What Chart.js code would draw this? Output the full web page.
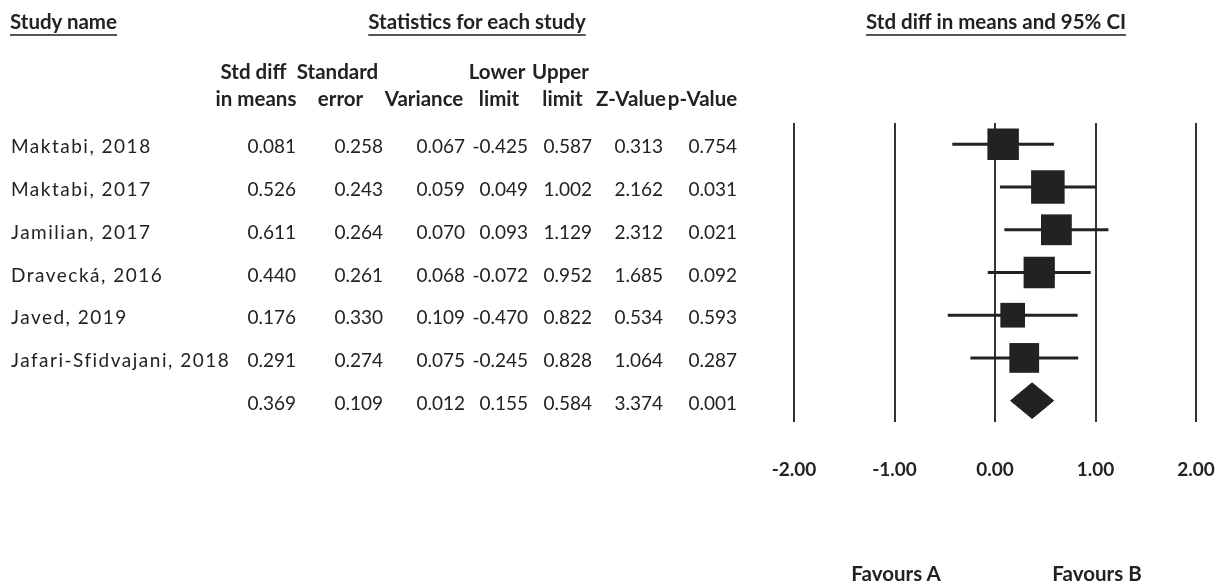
<!DOCTYPE html>
<html><head><meta charset="utf-8">
<script src="https://cdn.jsdelivr.net/npm/chart.js@4.4.1/dist/chart.umd.min.js"></script>
<style>
html,body{margin:0;padding:0;background:#fff;}
#wrap{position:relative;width:1229px;height:584px;overflow:hidden;font-family:Lato,"DejaVu Sans",sans-serif;color:#222;}
canvas{position:absolute;left:0;top:0;}
.t{position:absolute;white-space:nowrap;height:24px;line-height:24px;font-size:19px;}
.b{font-weight:bold;font-size:20.5px;}
.u{text-decoration:underline;text-decoration-thickness:2px;text-underline-offset:5px;text-decoration-color:#555;}
.name{letter-spacing:1.5px;}
</style></head><body>
<div id="wrap"><canvas id="c" width="1229" height="584"></canvas></div>
<script>
// ---- data ----
const studyNames = ['Maktabi, 2018','Maktabi, 2017','Jamilian, 2017','Dravecká, 2016','Javed, 2019','Jafari-Sfidvajani, 2018'];
const stdDiff    = [0.081, 0.526, 0.611, 0.440, 0.176, 0.291];
const stdErr     = [0.258, 0.243, 0.264, 0.261, 0.330, 0.274];
const variance   = [0.067, 0.059, 0.070, 0.068, 0.109, 0.075];
const lowerLimit = [-0.425, 0.049, 0.093, -0.072, -0.470, -0.245];
const upperLimit = [0.587, 1.002, 1.129, 0.952, 0.822, 0.828];
const zValue     = [0.313, 2.162, 2.312, 1.685, 0.534, 1.064];
const pValue     = [0.754, 0.031, 0.021, 0.092, 0.593, 0.287];
const pooledEstimate = 0.369;
const pooledSE       = 0.109;
const pooledVariance = 0.012;
const pooledLower    = 0.155;
const pooledUpper    = 0.584;
const pooledZ        = 3.374;
const pooledP        = 0.001;
const xTickValues = [-2, -1, 0, 1, 2];
const favourLabels = ['Favours A', 'Favours B'];
const favourAt = [-1, 1];
const titleLabels = ['Study name', 'Statistics for each study', 'Std diff in means and 95% CI'];
const colHeadLine1 = ['Std diff', 'Standard', '', 'Lower', 'Upper', '', ''];
const colHeadLine2 = ['in means', 'error', 'Variance', 'limit', 'limit', 'Z-Value', 'p-Value'];

// ---- layout (positions only) ----
const colRight = [296, 383, 465, 528, 592, 663, 737];
const head1Center = [253.5, 337.5, 0, 497, 560.5, 0, 0];
const head2Center = [256, 340.5, 424, 499, 562.5, 631, 702.5];
const wrap = document.getElementById('wrap');
function addText(txt, cls, x, yCenter, align) {
  const d = document.createElement('div');
  d.className = 't ' + cls;
  d.textContent = txt;
  d.style.top = (yCenter - 12) + 'px';
  if (align === 'right') { d.style.right = (1229 - x) + 'px'; }
  else if (align === 'center') { d.style.left = x + 'px'; d.style.transform = 'translateX(-50%)'; }
  else { d.style.left = x + 'px'; }
  wrap.appendChild(d);
  return d;
}

// ---- chart ----
const datasets = [];
for (let i = 0; i < stdDiff.length; i++) {
  datasets.push({
    data: [{x: lowerLimit[i], y: i}, {x: upperLimit[i], y: i}],
    showLine: true, borderColor: '#222', borderWidth: 3, pointRadius: 0, fill: false
  });
}
datasets.push({
  data: stdDiff.map((v, i) => ({x: v, y: i})),
  pointStyle: 'rect', backgroundColor: '#222', borderColor: '#222', borderWidth: 0,
  pointRadius: ctx => (8.15 / Math.sqrt(variance[ctx.dataIndex])) / Math.SQRT2,
  showLine: false
});
const sumRow = stdDiff.length;
const dh = 0.418;
datasets.push({
  data: [{x: pooledLower, y: sumRow}, {x: pooledEstimate, y: sumRow - dh}, {x: pooledUpper, y: sumRow}, {x: pooledEstimate, y: sumRow + dh}, {x: pooledLower, y: sumRow}],
  showLine: true, fill: 'shape', backgroundColor: '#222', borderColor: '#222', borderWidth: 1, pointRadius: 0, tension: 0
});

const chart = new Chart(document.getElementById('c'), {
  type: 'scatter',
  data: {datasets},
  options: {
    responsive: false, animation: false, events: [],
    layout: {padding: {left: 794, right: 33, top: 123, bottom: 0}},
    plugins: {legend: {display: false}, tooltip: {enabled: false}},
    scales: {
      x: {
        type: 'linear', min: -2, max: 2, position: 'bottom',
        afterBuildTicks: s => { s.ticks = xTickValues.map(v => ({value: v})); },
        ticks: {callback: v => Number(v).toFixed(2), font: {family: 'Lato', size: 19, weight: 'bold'}, color: '#222', padding: 0, maxRotation: 0, autoSkip: false},
        grid: {color: '#333', lineWidth: 2, drawTicks: true, tickLength: 36, tickColor: 'rgba(0,0,0,0)'},
        border: {display: false},
        afterFit: s => { s.height = 162; }
      },
      y: {type: 'linear', min: -0.5, max: 6.5, reverse: true, display: false}
    }
  }
});

// ---- text table, tied to chart scales ----
const ys = chart.scales.y, xs = chart.scales.x;
addText(titleLabels[0], 'b u', 10, 21, 'left');
addText(titleLabels[1], 'b u', 477, 21, 'center');
addText(titleLabels[2], 'b u', 996, 21, 'center');
colHeadLine1.forEach((h, j) => { if (h) addText(h, 'b', head1Center[j], 71, 'center'); });
colHeadLine2.forEach((h, j) => { if (h) addText(h, 'b', head2Center[j], 98, 'center'); });
const fmt = v => v.toFixed(3);
for (let i = 0; i < stdDiff.length; i++) {
  const y = ys.getPixelForValue(i) + 2;
  addText(studyNames[i], 'name', 11, y, 'left');
  [stdDiff[i], stdErr[i], variance[i], lowerLimit[i], upperLimit[i], zValue[i], pValue[i]].forEach((v, j) => addText(fmt(v), '', colRight[j], y, 'right'));
}
const yS = ys.getPixelForValue(sumRow) + 2;
[pooledEstimate, pooledSE, pooledVariance, pooledLower, pooledUpper, pooledZ, pooledP].forEach((v, j) => addText(fmt(v), '', colRight[j], yS, 'right'));
favourLabels.forEach((f, k) => addText(f, 'b', xs.getPixelForValue(favourAt[k]) + 1.5, 573, 'center'));
</script>
</body></html>
